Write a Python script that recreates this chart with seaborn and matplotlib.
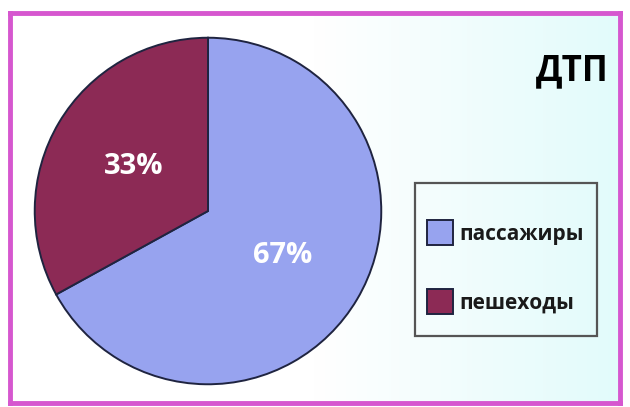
import numpy as np
import matplotlib
matplotlib.use("Agg")
import matplotlib.pyplot as plt
import seaborn as sns

labels = ["пассажиры", "пешеходы"]
shares = [67, 33]
colors = ["#97a3ef", "#8c2a55"]
title = "ДТП"

sns.set_style("white")
plt.rcParams["font.family"] = ["Open Sans", "DejaVu Sans"]

fig = plt.figure(figsize=(6.3, 4.07), dpi=100)
fig.patch.set_facecolor("white")

# background panel with gradient and pink frame
bg = fig.add_axes([10 / 630, 4 / 407, 610 / 630, 390 / 407])
grad = np.linspace(0, 1, 256).reshape(1, -1)
cmap = matplotlib.colors.LinearSegmentedColormap.from_list("bg", ["#ffffff", "#ffffff", "#e2fbfb"])
bg.imshow(grad, aspect="auto", cmap=cmap, extent=[0, 1, 0, 1])
bg.set_xlim(0, 1)
bg.set_ylim(0, 1)
bg.set_xticks([])
bg.set_yticks([])
for s in bg.spines.values():
    s.set_edgecolor("#d657cf")
    s.set_linewidth(3.5)

ax = fig.add_axes([33 / 630, 21 / 407, 350 / 630, 350 / 407])
wedges, texts, autotexts = ax.pie(
    shares, colors=colors, startangle=90, counterclock=False,
    autopct="%d%%", pctdistance=0.5,
    wedgeprops=dict(edgecolor="#1f2440", linewidth=1.4),
    textprops=dict(color="white", fontsize=21, fontweight="bold"))
ax.set_xlim(-1.01, 1.01)
ax.set_ylim(-1.01, 1.01)
ax.set_aspect("equal")
ax.axis("off")

fig.text(572 / 630, 1 - 80 / 407, title, ha="center", va="baseline",
         fontsize=25, fontweight="bold", color="black")

# legend box
box = matplotlib.patches.Rectangle((415 / 630, 1 - 336 / 407), 182 / 630, 153 / 407,
                                   transform=fig.transFigure, facecolor="none",
                                   edgecolor="#555555", linewidth=1.6)
fig.patches.append(box)

leg = fig.legend(wedges, labels, loc="center left",
                 bbox_to_anchor=(427 / 630, 1 - 267 / 407),
                 frameon=False, prop=dict(size=15, weight="bold"),
                 labelspacing=2.1, handlelength=1.25, handleheight=1.45,
                 handletextpad=0.3, borderpad=0, borderaxespad=0)
for t in leg.get_texts():
    t.set_color("#1a1a1a")

fig.savefig("out.png", dpi=100)
